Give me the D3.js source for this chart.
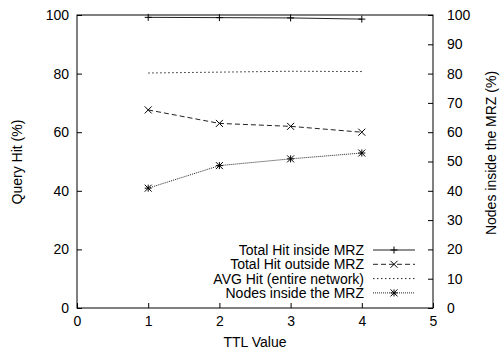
<!DOCTYPE html>
<html><head><meta charset="utf-8">
<script src="https://cdn.jsdelivr.net/npm/d3@7"></script>
<style>body{margin:0;background:#fff}svg text{font-family:"Liberation Sans",Arial,sans-serif;font-size:14px;fill:#000}</style>
</head><body><svg id="c" width="500" height="354"></svg>
<script>
const ttl = [1, 2, 3, 4];
const hitInside = [99.2, 99.1, 99.0, 98.6];
const hitOutside = [67.6, 63.0, 62.0, 60.0];
const avgHit = [80.2, 80.5, 80.8, 80.7];
const nodesInside = [40.9, 48.6, 50.9, 52.9];
const xTicks = [0, 1, 2, 3, 4, 5];
const yLeftTicks = [0, 20, 40, 60, 80, 100];
const yRightTicks = [0, 10, 20, 30, 40, 50, 60, 70, 80, 90, 100];
const legendLabels = ["Total Hit inside MRZ", "Total Hit outside MRZ", "AVG Hit (entire network)", "Nodes inside the MRZ"];

const svg = d3.select("#c");
const L = 77, R = 433, T = 15, B = 308;
const x = d3.scaleLinear().domain([0, 5]).range([L, R]);
const y = d3.scaleLinear().domain([0, 100]).range([B, T]);
const y2 = d3.scaleLinear().domain([0, 100]).range([B, T]);

svg.append("rect").attr("x", L).attr("y", T).attr("width", R - L).attr("height", B - T)
  .attr("fill", "none").attr("stroke", "#000").attr("stroke-width", 1);

const ax = svg.append("g").attr("transform", `translate(0,${B})`)
  .call(d3.axisBottom(x).tickValues(xTicks).tickSize(-5).tickPadding(8).tickFormat(d3.format("d")));
const ayl = svg.append("g").attr("transform", `translate(${L},0)`)
  .call(d3.axisLeft(y).tickValues(yLeftTicks).tickSize(-5).tickPadding(8).tickFormat(d3.format("d")));
const ayr = svg.append("g").attr("transform", `translate(${R},0)`)
  .call(d3.axisRight(y2).tickValues(yRightTicks).tickSize(-5).tickPadding(14).tickFormat(d3.format("d")));
[ax, ayl, ayr].forEach(g => {
  g.select(".domain").remove();
  g.selectAll("line").attr("stroke", "#000");
  g.selectAll("text").attr("font-family", "Liberation Sans, Arial, sans-serif").attr("font-size", 14).attr("fill", "#000");
});

svg.append("text").attr("x", (L + R) / 2).attr("y", 347).attr("text-anchor", "middle").text("TTL Value");
svg.append("text").attr("transform", `translate(22,162) rotate(-90)`).attr("text-anchor", "middle").text("Query Hit (%)");
svg.append("text").attr("transform", `translate(496,153) rotate(-90)`).attr("text-anchor", "middle").text("Nodes inside the MRZ (%)");

const series = [
  {vals: hitInside, sc: y, dash: null, mk: "plus"},
  {vals: hitOutside, sc: y, dash: "5,3", mk: "cross"},
  {vals: avgHit, sc: y, dash: "1.5,2.5", mk: null},
  {vals: nodesInside, sc: y2, dash: "1,1", mk: "star"}
];
function marker(g, cx, cy, type) {
  const s = 3.5;
  const p = [];
  if (type === "plus" || type === "star") p.push(`M${cx - s},${cy}H${cx + s}M${cx},${cy - s}V${cy + s}`);
  if (type === "cross" || type === "star") p.push(`M${cx - s},${cy - s}L${cx + s},${cy + s}M${cx - s},${cy + s}L${cx + s},${cy - s}`);
  g.append("path").attr("d", p.join("")).attr("stroke", "#000").attr("stroke-width", 1).attr("fill", "none");
}
series.forEach(s => {
  const line = d3.line().x((d, i) => x(ttl[i])).y(d => s.sc(d));
  svg.append("path").datum(s.vals).attr("d", line).attr("fill", "none")
    .attr("stroke", "#222").attr("stroke-width", 1).attr("stroke-dasharray", s.dash);
  if (s.mk) s.vals.forEach((v, i) => marker(svg, x(ttl[i]), s.sc(v), s.mk));
});

const ly0 = 250, ldy = 14.3;
legendLabels.forEach((lab, i) => {
  const yy = ly0 + i * ldy;
  svg.append("text").attr("x", 364).attr("y", yy + 5).attr("text-anchor", "end").text(lab);
  const s = series[i];
  svg.append("line").attr("x1", 373).attr("x2", 415).attr("y1", yy).attr("y2", yy)
    .attr("stroke", "#222").attr("stroke-width", 1).attr("stroke-dasharray", s.dash);
  if (s.mk) marker(svg, 394, yy, s.mk);
});
</script></body></html>
